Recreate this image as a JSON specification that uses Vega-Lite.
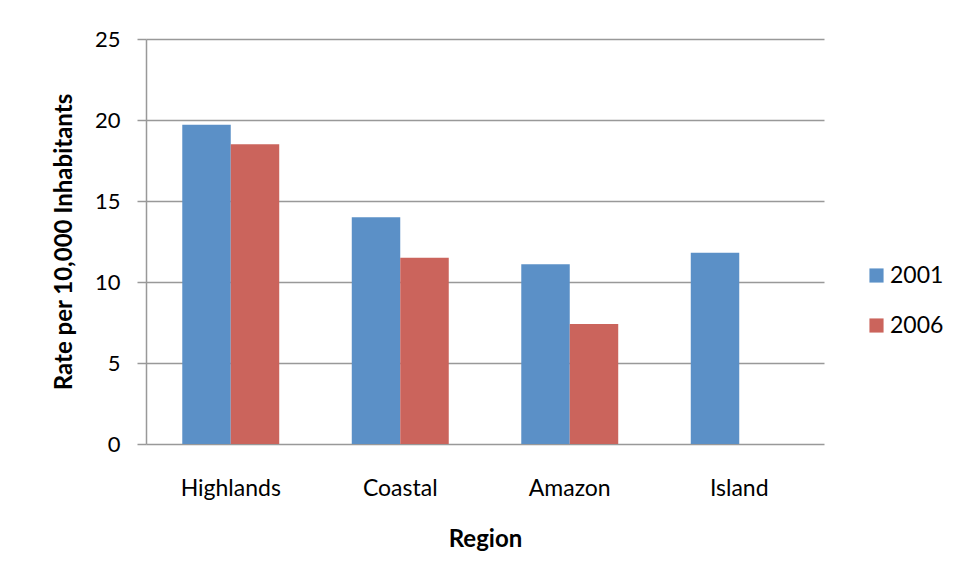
{
  "$schema": "https://vega.github.io/schema/vega-lite/v6.json",
  "width": 678,
  "height": 405,
  "autosize": {"type": "pad"},
  "padding": {"left": 52, "top": 28, "right": 5, "bottom": 5},
  "background": "white",
  "data": {
    "values": [
      {"region": "Highlands", "year": "2001", "value": 19.7},
      {"region": "Highlands", "year": "2006", "value": 18.5},
      {"region": "Coastal", "year": "2001", "value": 14.0},
      {"region": "Coastal", "year": "2006", "value": 11.5},
      {"region": "Amazon", "year": "2001", "value": 11.1},
      {"region": "Amazon", "year": "2006", "value": 7.4},
      {"region": "Island", "year": "2001", "value": 11.8}
    ]
  },
  "mark": {"type": "bar"},
  "encoding": {
    "x": {
      "field": "region",
      "type": "nominal",
      "sort": ["Highlands", "Coastal", "Amazon", "Island"],
      "scale": {"paddingInner": 0.428, "paddingOuter": 0.214},
      "title": "Region",
      "axis": {
        "labelAngle": 0,
        "domain": false,
        "ticks": false,
        "labelPadding": 33,
        "labelFont": "Lato",
        "labelFontSize": 23,
        "labelColor": "#000000",
        "titleFont": "Lato",
        "titleFontSize": 24,
        "titleFontWeight": "bold",
        "titleColor": "#000000",
        "titlePadding": 27
      }
    },
    "xOffset": {
      "field": "year",
      "type": "nominal",
      "scale": {"domain": ["2001", "2006"]}
    },
    "y": {
      "field": "value",
      "type": "quantitative",
      "scale": {"domain": [0, 25]},
      "title": "Rate per 10,000 Inhabitants",
      "axis": {
        "values": [0, 5, 10, 15, 20, 25],
        "grid": true,
        "gridColor": "#999999",
        "gridWidth": 1.5,
        "domain": true,
        "domainColor": "#999999",
        "domainWidth": 1.5,
        "tickColor": "#999999",
        "tickWidth": 1.5,
        "tickSize": 9,
        "labelPadding": 17,
        "labelFont": "Lato",
        "labelFontSize": 22,
        "labelColor": "#000000",
        "titleFont": "Lato",
        "titleFontSize": 24,
        "titleFontWeight": "bold",
        "titleColor": "#000000",
        "titlePadding": 18
      }
    },
    "color": {
      "field": "year",
      "type": "nominal",
      "scale": {"domain": ["2001", "2006"], "range": ["#5B90C7", "#CB645C"]},
      "legend": {
        "title": null,
        "orient": "none",
        "legendX": 719,
        "legendY": 225,
        "symbolType": "square",
        "symbolSize": 200,
        "symbolStrokeWidth": 0,
        "labelFont": "Lato",
        "labelFontSize": 23,
        "labelColor": "#000000",
        "labelOffset": 2,
        "rowPadding": 26
      }
    }
  },
  "config": {"view": {"stroke": null}}
}
